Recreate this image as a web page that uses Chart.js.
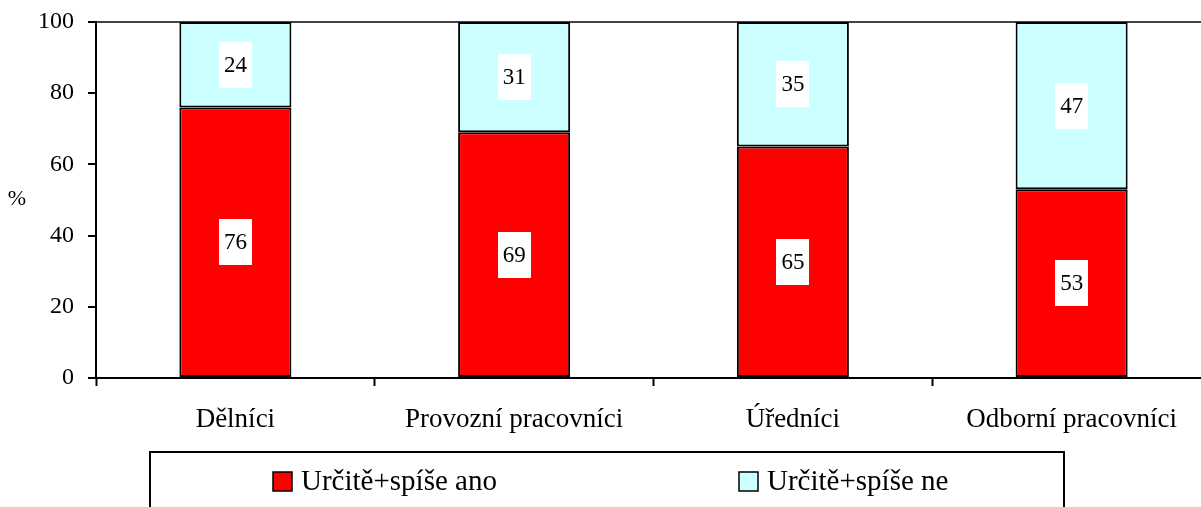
<!DOCTYPE html>
<html>
<head>
<meta charset="utf-8">
<script src="https://cdn.jsdelivr.net/npm/chart.js@4/dist/chart.umd.min.js"></script>
<style>
html,body{margin:0;padding:0;background:#fff;overflow:hidden;}
#wrap{width:1215px;height:507px;}
</style>
</head>
<body>
<div id="wrap"><canvas id="c" width="1215" height="507"></canvas></div>
<script>
const categories = ["Dělníci", "Provozní pracovníci", "Úředníci", "Odborní pracovníci"];
const seriesNames = ["Určitě+spíše ano", "Určitě+spíše ne"];
const yesValues = [76, 69, 65, 53];
const noValues = [24, 31, 35, 47];
const yTicks = [0, 20, 40, 60, 80, 100];
const yAxisLabel = "%";

const SERIF = "'Liberation Serif', 'Times New Roman', serif";

const valueLabels = {
  id: 'valueLabels',
  afterDatasetsDraw(chart) {
    const ctx = chart.ctx;
    ctx.save();
    ctx.font = "23px " + SERIF;
    ctx.textAlign = 'center';
    ctx.textBaseline = 'middle';
    chart.data.datasets.forEach((ds, di) => {
      const meta = chart.getDatasetMeta(di);
      meta.data.forEach((el, i) => {
        const cx = el.x;
        const cy = (el.y + el.base) / 2;
        ctx.fillStyle = '#fff';
        ctx.fillRect(Math.round(cx - 16.5), Math.round(cy - 23), 33, 46);
        ctx.fillStyle = '#000';
        ctx.fillText(String(ds.data[i]), cx, cy + 1);
      });
    });
    ctx.restore();
  }
};

const extras = {
  id: 'extras',
  afterDraw(chart) {
    const ctx = chart.ctx;
    ctx.save();
    ctx.fillStyle = '#000';
    ctx.font = "22px " + SERIF;
    ctx.textAlign = 'center';
    ctx.textBaseline = 'middle';
    ctx.fillText(yAxisLabel, 17, 199);
    ctx.strokeStyle = '#000';
    ctx.lineWidth = 2;
    ctx.strokeRect(150, 452, 914, 70);
    const items = [{x: 273}, {x: 739}];
    ctx.font = "29px " + SERIF;
    ctx.textAlign = 'left';
    ctx.textBaseline = 'middle';
    chart.data.datasets.forEach((ds, i) => {
      const it = items[i];
      ctx.fillStyle = ds.backgroundColor;
      ctx.fillRect(it.x, 472, 19, 19);
      ctx.lineWidth = 1.5;
      ctx.strokeStyle = '#000';
      ctx.strokeRect(it.x, 472, 19, 19);
      ctx.fillStyle = '#000';
      ctx.fillText(ds.label, it.x + 28, 482);
    });
    ctx.restore();
  }
};

new Chart(document.getElementById('c'), {
  type: 'bar',
  data: {
    labels: categories,
    datasets: [
      { label: seriesNames[0], data: yesValues, backgroundColor: '#FF0000', borderColor: '#000', borderWidth: 2, borderSkipped: false },
      { label: seriesNames[1], data: noValues, backgroundColor: '#CCFFFF', borderColor: '#000', borderWidth: 2, borderSkipped: false }
    ]
  },
  options: {
    responsive: false,
    animation: false,
    events: [],
    layout: { padding: { left: 0, top: 22, right: 4, bottom: 0 } },
    plugins: { legend: { display: false }, tooltip: { enabled: false } },
    datasets: { bar: { categoryPercentage: 1, barPercentage: 0.402 } },
    scales: {
      x: {
        stacked: true,
        afterFit(s) { s.height = 129; s.paddingLeft = 0; s.paddingRight = 0; },
        grid: { offset: true, drawOnChartArea: false, tickLength: 8, tickColor: '#000', tickWidth: 2 },
        border: { display: true, color: '#000', width: 2 },
        ticks: { color: '#000', font: { family: SERIF, size: 27 }, padding: 18, maxRotation: 0, autoSkip: false }
      },
      y: {
        stacked: true,
        min: 0, max: 100,
        afterFit(s) { s.width = 96; s.paddingTop = 0; s.paddingBottom = 0; },
        afterBuildTicks(s) { s.ticks = yTicks.map(v => ({ value: v })); },
        grid: {
          color: (c) => (c.tick && c.tick.value === 100) ? '#444' : 'rgba(0,0,0,0)',
          tickColor: '#000', tickLength: 8, tickWidth: 2, lineWidth: 2
        },
        border: { display: true, color: '#000', width: 2 },
        ticks: { color: '#000', font: { family: SERIF, size: 24 }, padding: 14 }
      }
    }
  },
  plugins: [valueLabels, extras]
});
</script>
</body>
</html>
